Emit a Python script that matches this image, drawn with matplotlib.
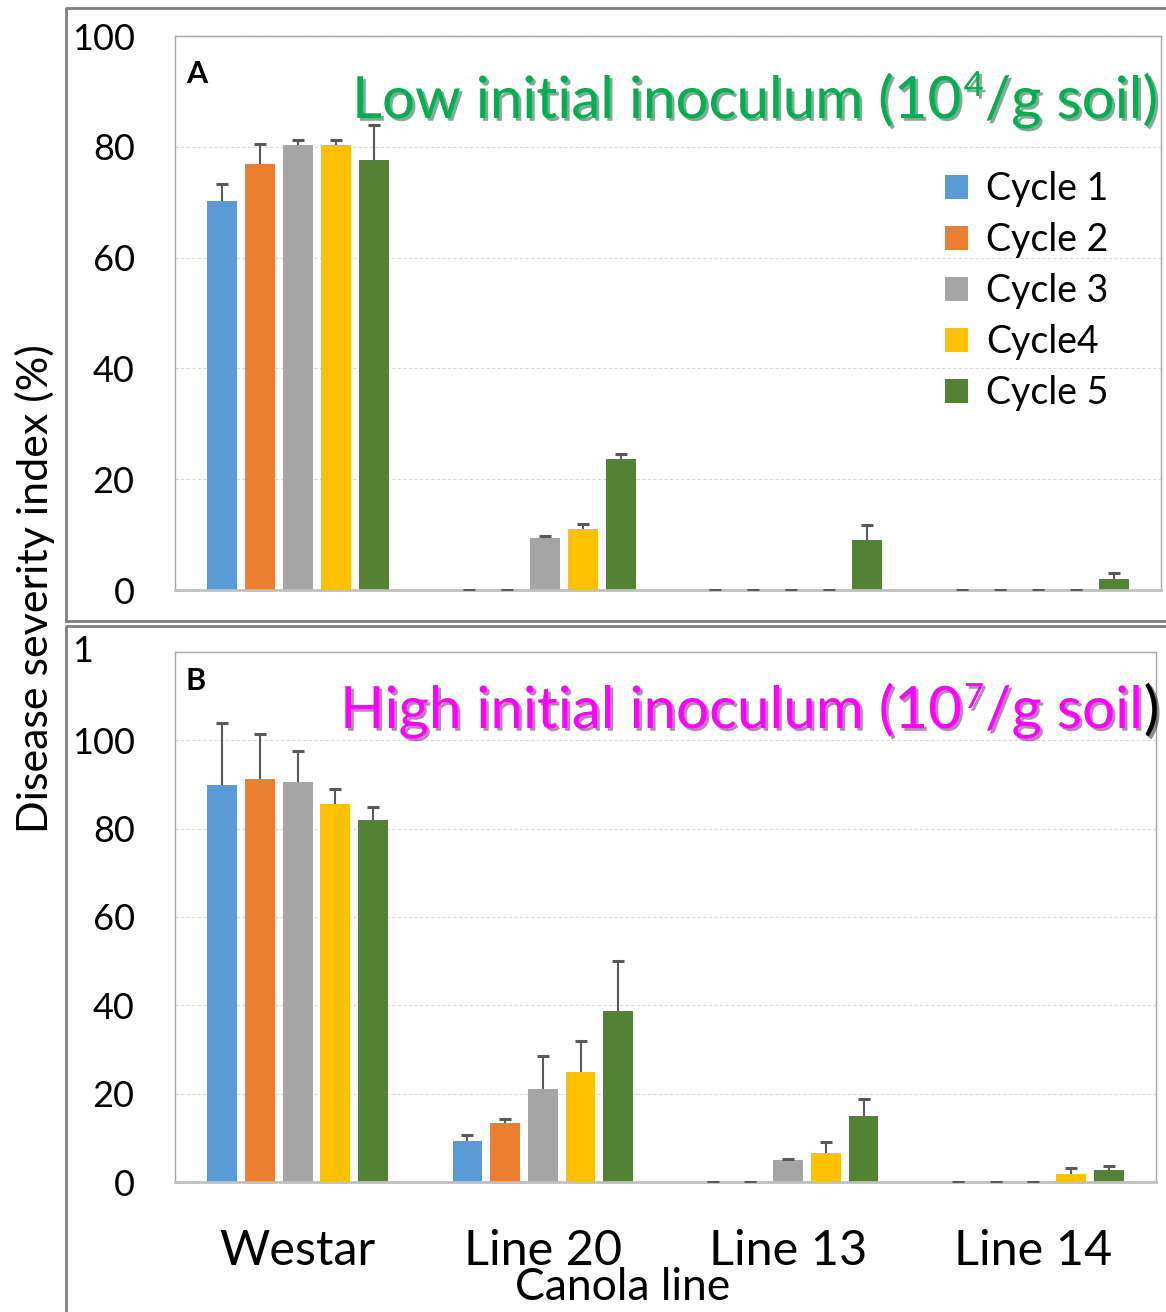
import numpy as np
import matplotlib
matplotlib.use('Agg')
import matplotlib.pyplot as plt
import matplotlib.patheffects as pe
from matplotlib.lines import Line2D
from matplotlib.patches import Patch

plt.rcParams['font.family'] = ['Lato', 'DejaVu Sans']

lines = ['Westar', 'Line 20', 'Line 13', 'Line 14']
cycles = ['Cycle 1', 'Cycle 2', 'Cycle 3', 'Cycle4', 'Cycle 5']
colors = ['#5B9BD5', '#ED7D31', '#A5A5A5', '#FFC000', '#548235']

# Low inoculum (panel A): rows = cycles, cols = canola lines
low_mean = [[70.2, 0, 0, 0],
            [76.9, 0, 0, 0],
            [80.3, 9.3, 0, 0],
            [80.4, 11.1, 0, 0],
            [77.7, 23.6, 9.1, 2.0]]
low_err = [[3.1, 0, 0, 0],
           [3.6, 0, 0, 0],
           [0.9, 0.5, 0, 0],
           [0.9, 0.8, 0, 0],
           [6.2, 0.9, 2.7, 1.1]]

# High inoculum (panel B)
high_mean = [[90.0, 9.2, 0, 0],
             [91.3, 13.4, 0, 0],
             [90.6, 21.1, 4.9, 0],
             [85.5, 24.9, 6.6, 1.8],
             [82.0, 38.8, 15.0, 2.7]]
high_err = [[13.9, 1.5, 0, 0],
            [10.1, 0.8, 0, 0],
            [7.0, 7.5, 0.2, 0],
            [3.5, 7.1, 2.4, 1.3],
            [3.0, 11.2, 3.9, 1.0]]

W, H = 1166, 1312
fig = plt.figure(figsize=(W / 100, H / 100), dpi=100)


def fx(px):
    return px / W


def fy(py):
    return 1 - py / H


axA = fig.add_axes([fx(175), fy(590), fx(1161) - fx(175), fy(36) - fy(590)])
axB = fig.add_axes([fx(175), fy(1182), fx(1156) - fx(175), fy(652) - fy(1182)])

x = np.arange(len(lines))
step = 38 / 247
width = 30 / 247


def draw(ax, means, errs, ymax):
    for i in range(len(cycles)):
        pos = x + (i - 2) * step
        m = np.array(means[i])
        e = np.array(errs[i])
        ax.bar(pos, m, width, color=colors[i], zorder=2, label=cycles[i])
        # upper error bars only, cap at the top
        ax.vlines(pos, m, m + e, color='#595959', lw=1.5, zorder=3)
        ax.plot(pos, m + e, ls='none', marker='_', ms=9, mew=2.2,
                color='#595959', zorder=3)
    ax.set_xlim(-0.5, 3.5)
    ax.set_ylim(0, ymax)
    ax.set_yticks(np.arange(0, 101, 20))
    ax.yaxis.grid(True, color='#D9D9D9', linestyle=(0, (3, 2)), linewidth=0.8, zorder=0)
    ax.tick_params(axis='y', length=0, labelsize=26, pad=29)
    ax.tick_params(axis='x', length=0)
    for s in ['top', 'right', 'left']:
        ax.spines[s].set_color('#A6A6A6')
        ax.spines[s].set_linewidth(1)
    ax.spines['bottom'].set_color('#BFBFBF')
    ax.spines['bottom'].set_linewidth(2)


draw(axA, low_mean, low_err, 100)
draw(axB, high_mean, high_err, 120)

axA.set_xticks([])
axB.set_xticks(x)
axB.set_xticklabels(lines, fontsize=35)
axB.tick_params(axis='x', pad=34)

shadow = [pe.SimplePatchShadow(offset=(2, -2), alpha=0.45), pe.Normal()]

axA.text(0.011, 0.957, 'A', transform=axA.transAxes, fontsize=22,
         fontweight='bold', va='top', ha='left')
axB.text(0.011, 0.972, 'B', transform=axB.transAxes, fontsize=22,
         fontweight='bold', va='top', ha='left')

renderer = fig.canvas.get_renderer()


def chain(x_px, base_px, parts):
    # draw text pieces one after another on a shared baseline
    xp = x_px
    for s, size, color, rise, gap in parts:
        t = fig.text(fx(xp + gap), fy(base_px - rise), s, fontsize=size, color=color,
                     va='baseline', ha='left', path_effects=shadow)
        xp = t.get_window_extent(renderer).x1


green = '#00B050'
pink = '#FF00FF'
chain(352, 118, [('Low initial inoculum (10', 42, green, 0, 0),
                 ('4', 25, green, 22, 2),
                 ('/g soil)', 42, green, 0, 1)])
chain(340, 728, [('High initial inoculum (10', 42, pink, 0, 0),
                 ('7', 25, pink, 20, 2),
                 ('/g soil', 42, pink, 0, 1),
                 (')', 42, 'black', 0, 1)])

# partially hidden top label of panel B
fig.text(fx(72), fy(652), '1', fontsize=26, va='center', ha='left')

handles = [Patch(facecolor=c) for c in colors]
axA.legend(handles, cycles, loc='upper left', bbox_to_anchor=(0.762, 0.79),
           frameon=False, fontsize=27, handlelength=0.6, handleheight=0.6,
           handletextpad=0.5, labelspacing=0.4, borderpad=0)

fig.text(fx(35), fy(589), 'Disease severity index (%)', rotation=90, fontsize=31,
         va='center', ha='center')
fig.text(fx(623), fy(1288), 'Canola line', fontsize=32, va='center', ha='center')

# outer panel frames
fc = '#7F7F7F'
fig.add_artist(Line2D([fx(66), fx(66), 1.0], [fy(621), fy(8), fy(8)], color=fc, lw=2))
fig.add_artist(Line2D([fx(66), 1.0], [fy(621), fy(621)], color=fc, lw=2))
fig.add_artist(Line2D([fx(66), fx(66), 1.0], [0, fy(626), fy(626)], color=fc, lw=2))

fig.savefig('out.png', dpi=100)
